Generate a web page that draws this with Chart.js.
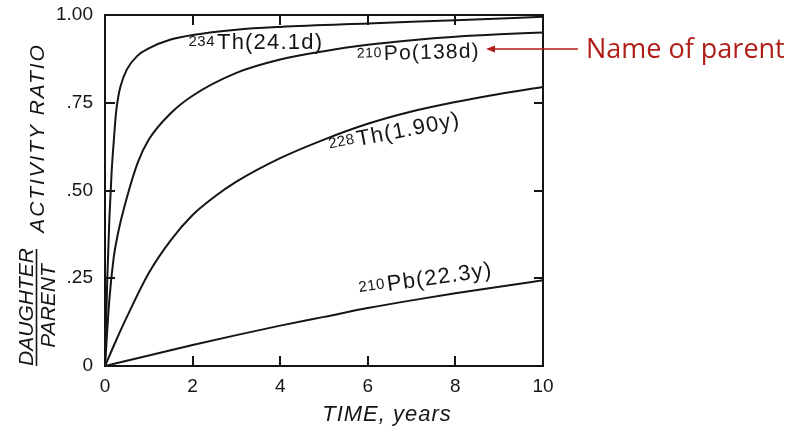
<!DOCTYPE html>
<html>
<head>
<meta charset="utf-8">
<script src="https://cdn.jsdelivr.net/npm/chart.js@4.4.1/dist/chart.umd.min.js"></script>
<style>
  html, body { margin: 0; padding: 0; background: #fff; }
  #wrap { width: 795px; height: 427px; }
</style>
</head>
<body>
<div id="wrap"><canvas id="chart" width="795" height="427"></canvas></div>
<script>
// time in years vs daughter/parent activity ratio
const th234Time  = [0, 0.05, 0.1, 0.15, 0.2, 0.25, 0.3, 0.35, 0.5, 0.75, 1, 1.5, 2, 3, 4, 6, 8, 10];
const th234Ratio = [0, 0.24, 0.42, 0.55, 0.64, 0.72, 0.765, 0.795, 0.845, 0.885, 0.905, 0.93, 0.943, 0.958, 0.966, 0.976, 0.985, 0.995];

const po210Time  = [0, 0.1, 0.2, 0.3, 0.5, 0.75, 1, 1.5, 2, 3, 4, 5, 6, 7, 8, 9, 10];
const po210Ratio = [0, 0.19, 0.31, 0.38, 0.48, 0.58, 0.645, 0.72, 0.77, 0.835, 0.873, 0.897, 0.915, 0.928, 0.938, 0.945, 0.95];

const th228Time  = [0, 0.25, 0.5, 1, 1.5, 2, 2.5, 3, 4, 5, 6, 7, 8, 9, 10];
const th228Ratio = [0, 0.072, 0.14, 0.265, 0.358, 0.43, 0.482, 0.525, 0.592, 0.645, 0.69, 0.725, 0.752, 0.775, 0.795];

const pb210Time  = [0, 1, 2, 3, 4, 5, 6, 7, 8, 9, 10];
const pb210Ratio = [0, 0.03, 0.06, 0.088, 0.115, 0.14, 0.165, 0.187, 0.207, 0.226, 0.244];

const massNumbers = ['234', '210', '228', '210'];
const parentNames = ['Th(24.1d)', 'Po(138d)', 'Th(1.90y)', 'Pb(22.3y)'];

const xTickLabels = ['0', '2', '4', '6', '8', '10'];
const yTickLabels = ['0', '.25', '.50', '.75', '1.00'];

const ink = '#151515';
const red = '#b01e18';

function toPoints(xs, ys) {
  return xs.map((x, i) => ({ x: x, y: ys[i] }));
}

function drawIso(ctx, x, y, angle, mass, name, size) {
  ctx.save();
  ctx.translate(x, y);
  ctx.rotate(angle * Math.PI / 180);
  ctx.fillStyle = ink;
  ctx.textBaseline = 'alphabetic';
  ctx.letterSpacing = '1.2px';
  ctx.font = size + 'px "Liberation Sans"';
  ctx.textAlign = 'left';
  ctx.fillText(name, 0, 0);
  ctx.letterSpacing = '0.5px';
  ctx.font = Math.round(size * 0.66) + 'px "Liberation Sans"';
  ctx.textAlign = 'right';
  ctx.fillText(mass, -2, -3);
  ctx.restore();
}

function drawVertical(ctx, text, bx, cy, size, spacing) {
  ctx.save();
  ctx.translate(bx, cy);
  ctx.rotate(-Math.PI / 2);
  ctx.letterSpacing = spacing + 'px';
  ctx.font = 'italic ' + size + 'px "Liberation Sans"';
  ctx.textAlign = 'center';
  ctx.textBaseline = 'alphabetic';
  ctx.fillStyle = ink;
  ctx.fillText(text, 0, 0);
  ctx.restore();
}

const decor = {
  id: 'decor',
  afterDraw(chart) {
    const ctx = chart.ctx;
    const { left, right, top, bottom } = chart.chartArea;
    const xs = chart.scales.x;
    const ys = chart.scales.y;

    // frame and inward ticks
    ctx.save();
    ctx.strokeStyle = ink;
    ctx.lineWidth = 2;
    ctx.strokeRect(left, top, right - left, bottom - top);
    ctx.beginPath();
    xs.ticks.forEach(t => {
      if (t.value <= xs.min || t.value >= xs.max) return;
      const px = Math.round(xs.getPixelForValue(t.value));
      ctx.moveTo(px, bottom); ctx.lineTo(px, bottom - 10);
      ctx.moveTo(px, top); ctx.lineTo(px, top + 10);
    });
    ys.ticks.forEach(t => {
      if (t.value <= ys.min || t.value >= ys.max) return;
      const py = Math.round(ys.getPixelForValue(t.value));
      ctx.moveTo(left, py); ctx.lineTo(left + 10, py);
      ctx.moveTo(right, py); ctx.lineTo(right - 9, py);
    });
    ctx.stroke();
    ctx.restore();

    // curve labels
    drawIso(ctx, 217, 49, 0, massNumbers[0], parentNames[0], 22);
    drawIso(ctx, 384, 60, -1.5, massNumbers[1], parentNames[1], 21);
    drawIso(ctx, 358, 146, -11, massNumbers[2], parentNames[2], 22);
    drawIso(ctx, 388, 291, -8, massNumbers[3], parentNames[3], 22);

    // x axis title
    ctx.save();
    ctx.fillStyle = ink;
    ctx.letterSpacing = '1px';
    ctx.font = 'italic 22px "Liberation Sans"';
    ctx.textAlign = 'center';
    ctx.textBaseline = 'alphabetic';
    ctx.fillText('TIME, years', 387, 421);
    ctx.restore();

    // y axis title
    drawVertical(ctx, 'ACTIVITY RATIO', 44, 138, 21, 1.9);
    drawVertical(ctx, 'DAUGHTER', 33, 307, 21, 0);
    drawVertical(ctx, 'PARENT', 55, 306, 21, 0);
    ctx.save();
    ctx.strokeStyle = ink;
    ctx.lineWidth = 1.6;
    ctx.beginPath();
    ctx.moveTo(36.5, 249); ctx.lineTo(36.5, 366);
    ctx.stroke();
    ctx.restore();

    // annotation
    ctx.save();
    ctx.strokeStyle = red;
    ctx.fillStyle = red;
    ctx.lineWidth = 1.5;
    ctx.beginPath();
    ctx.moveTo(578, 49); ctx.lineTo(494, 49);
    ctx.stroke();
    ctx.beginPath();
    ctx.moveTo(486, 49); ctx.lineTo(495, 45.5); ctx.lineTo(495, 52.5);
    ctx.closePath();
    ctx.fill();
    ctx.font = '27px "Open Sans"';
    ctx.textAlign = 'left';
    ctx.textBaseline = 'alphabetic';
    ctx.fillText('Name of parent', 586, 58);
    ctx.restore();
  }
};

const tickFont = { family: '"Liberation Sans"', size: 19 };

new Chart(document.getElementById('chart'), {
  type: 'line',
  data: {
    datasets: [
      { data: toPoints(th234Time, th234Ratio) },
      { data: toPoints(po210Time, po210Ratio) },
      { data: toPoints(th228Time, th228Ratio) },
      { data: toPoints(pb210Time, pb210Ratio) }
    ]
  },
  options: {
    responsive: false,
    animation: false,
    events: [],
    layout: { padding: { top: 15, right: 252, left: 0, bottom: 0 } },
    plugins: { legend: { display: false }, tooltip: { enabled: false } },
    elements: {
      point: { radius: 0 },
      line: { borderWidth: 2, borderColor: ink, cubicInterpolationMode: 'monotone', fill: false }
    },
    scales: {
      x: {
        type: 'linear', min: 0, max: 10,
        afterFit(s) { s.height = 61; s.paddingLeft = 0; s.paddingRight = 0; },
        grid: { display: false, drawTicks: false },
        border: { display: false },
        ticks: { stepSize: 2, padding: 9, color: ink, font: tickFont, maxRotation: 0,
          callback: (v, i) => xTickLabels[i] }
      },
      y: {
        min: 0, max: 1,
        afterFit(s) { s.width = 105; s.paddingTop = 0; s.paddingBottom = 0; },
        grid: { display: false, drawTicks: false },
        border: { display: false },
        ticks: { stepSize: 0.25, padding: 12, color: ink, font: tickFont,
          callback: (v, i) => yTickLabels[i] }
      }
    }
  },
  plugins: [decor]
});
</script>
</body>
</html>
